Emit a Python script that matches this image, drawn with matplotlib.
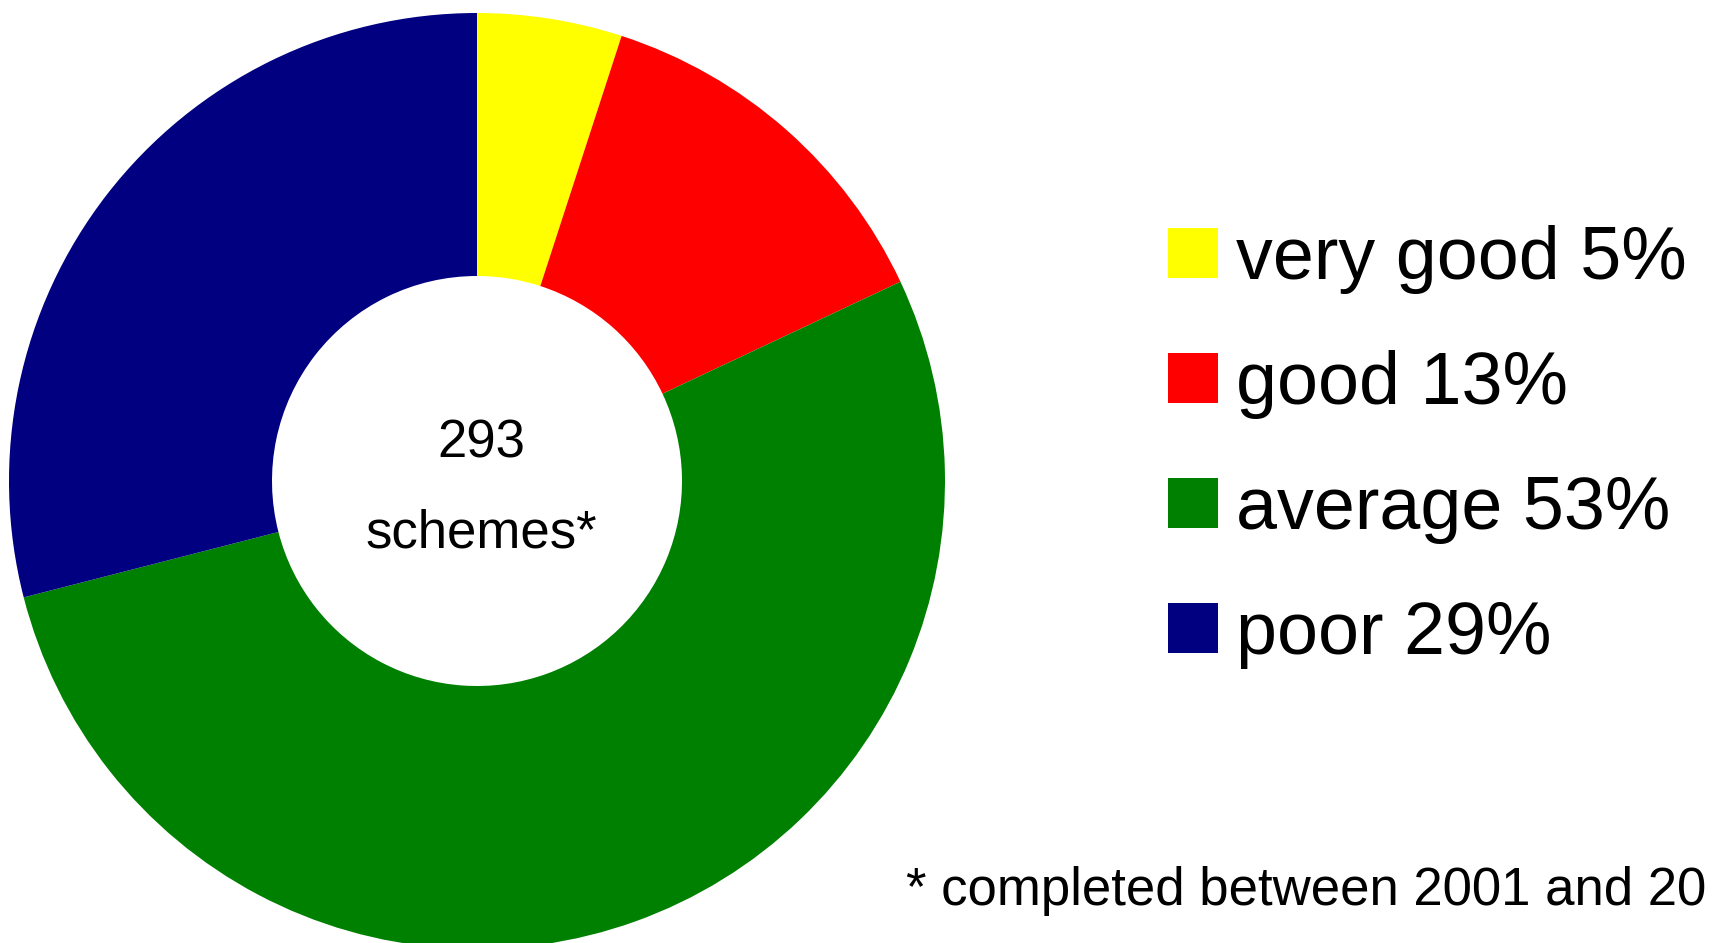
import matplotlib.pyplot as plt
from matplotlib.patches import Patch

plt.rcParams['font.family'] = ['Liberation Sans', 'DejaVu Sans']

labels = ['very good', 'good', 'average', 'poor']
shares = [5, 13, 53, 29]
colors = ['#ffff00', '#ff0000', '#008000', '#000080']
total = 293

W, H = 1715, 943
fig = plt.figure(figsize=(W / 100, H / 100), dpi=100)

# donut: centre (477, 481) px, outer radius 468 px
cx, cy, r = 477, 481, 468
ax = fig.add_axes([(cx - r) / W, (H - cy - r) / H, 2 * r / W, 2 * r / H])
ax.pie(shares, colors=colors, startangle=90, counterclock=False,
       radius=1, wedgeprops=dict(width=1 - 205 / 468, linewidth=0))
ax.set_xlim(-1, 1)
ax.set_ylim(-1, 1)
ax.axis('off')

fig.text(481 / W, 1 - 444 / H, str(total), ha='center', va='center', fontsize=38)
fig.text(481 / W, 1 - 534 / H, 'schemes*', ha='center', va='center', fontsize=38)

handles = [Patch(facecolor=c, edgecolor='none') for c in colors]
fig.legend(handles, ['{} {}%'.format(l, s) for l, s in zip(labels, shares)],
           loc='upper left', bbox_to_anchor=(1168 / W, 1 - 225 / H),
           frameon=False, fontsize=53, handlelength=0.68, handleheight=0.68,
           handletextpad=0.25, labelspacing=0.76, borderpad=0, borderaxespad=0)

fig.text(906 / W, 1 - 905 / H, '* completed between 2001 and 20',
         ha='left', va='baseline', fontsize=38)

fig.savefig('out.png', dpi=100)
